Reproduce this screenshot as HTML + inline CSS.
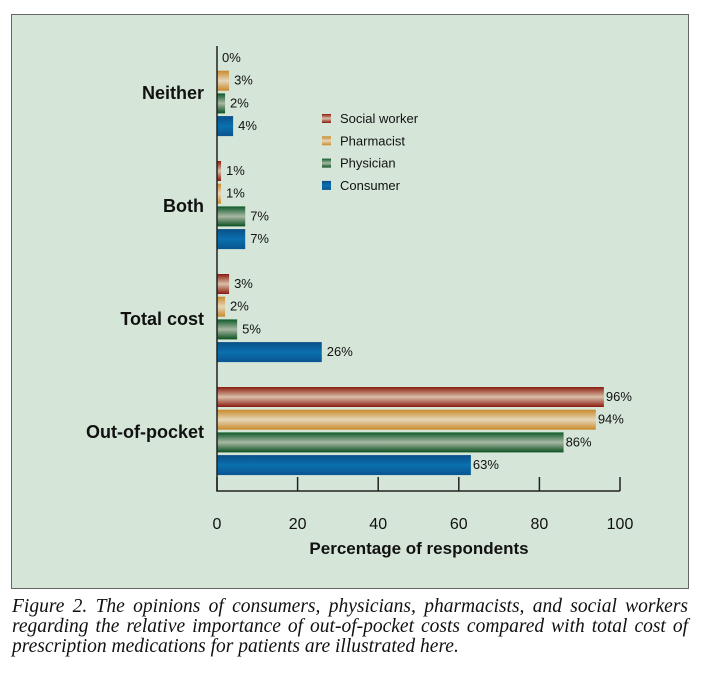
<!DOCTYPE html>
<html><head><meta charset="utf-8">
<style>
body{margin:0;background:#fff;width:703px;height:677px;overflow:hidden;font-family:"Liberation Sans",sans-serif}
#frame{position:absolute;left:11px;top:14px;width:676px;height:573px;background:#d5e6d8;border:1px solid #666}
#cap{position:absolute;left:12px;top:597px;width:676px;font-family:"Liberation Serif",serif;font-style:italic;font-size:19.5px;line-height:20px;color:#111}
#cap .j{text-align:justify;text-align-last:justify;white-space:nowrap}
</style></head><body>
<div id="frame"></div>
<svg id="chart" width="703" height="677" style="position:absolute;left:0;top:0">
<defs>
<linearGradient id="g0" x1="0" y1="0" x2="0" y2="1"><stop offset="0" stop-color="#8a1a0e"/><stop offset="0.5" stop-color="#d9c0a8"/><stop offset="1" stop-color="#8a1a0e"/></linearGradient>
<linearGradient id="g1" x1="0" y1="0" x2="0" y2="1"><stop offset="0" stop-color="#c98a2a"/><stop offset="0.5" stop-color="#e6d6b8"/><stop offset="1" stop-color="#c98a2a"/></linearGradient>
<linearGradient id="g2" x1="0" y1="0" x2="0" y2="1"><stop offset="0" stop-color="#0f5a28"/><stop offset="0.5" stop-color="#a8b8a4"/><stop offset="1" stop-color="#0b4f20"/></linearGradient>
<linearGradient id="g3" x1="0" y1="0" x2="0" y2="1"><stop offset="0" stop-color="#0a4f88"/><stop offset="0.5" stop-color="#0a70ae"/><stop offset="1" stop-color="#0a5590"/></linearGradient>
</defs>
</svg>
<div id="cap"><div class="j">Figure 2. The opinions of consumers, physicians, pharmacists, and social workers</div><div class="j">regarding the relative importance of out-of-pocket costs compared with total cost of</div><div>prescription medications for patients are illustrated here.</div></div>
<script>
const categories=["Neither","Both","Total cost","Out-of-pocket"];
const seriesNames=["Social worker","Pharmacist","Physician","Consumer"];
const socialWorker=[0,1,3,96];
const pharmacist=[3,1,2,94];
const physician=[2,7,5,86];
const consumer=[4,7,26,63];
const xTicks=[0,20,40,60,80,100];
const series=[socialWorker,pharmacist,physician,consumer];
const NS="http://www.w3.org/2000/svg";
const svg=document.getElementById('chart');
const x0=217,x1=620;
const xs=v=>x0+(x1-x0)*v/100;
const groupY=i=>48+i*113;
const barY=(i,s)=>groupY(i)+s*22.7;
function mk(t,a,txt){const e=document.createElementNS(NS,t);for(const k in a)e.setAttribute(k,a[k]);if(txt!==undefined)e.textContent=txt;svg.appendChild(e);return e;}
categories.forEach((c,i)=>{
  series.forEach((arr,s)=>{
    const v=arr[i],y=barY(i,s);
    const r=mk('rect',{x:x0,y:y,width:Math.max(xs(v)-x0,0),height:20,fill:`url(#g${s})`});
    
    
    const t=mk('text',{x:xs(v)+(v>50?2:5),y:y+14,'font-size':13,fill:'#111'},v+'%');
    
    
  });
  const l=mk('text',{x:204,y:groupY(i)+51,'font-size':18,'font-weight':'bold','text-anchor':'end',fill:'#111'},c);
  
  
});
const ax=mk('path',{d:`M${x0} 46V491H${x1}`,stroke:'#222','stroke-width':1.5,fill:'none'});


xTicks.forEach(v=>{
  const tk=mk('line',{x1:xs(v),x2:xs(v),y1:491,y2:477,stroke:'#222','stroke-width':1.5});
  
  
  const tl=mk('text',{x:xs(v),y:529,'font-size':16,'text-anchor':'middle',fill:'#111'},v);
  
  
});
const xt=mk('text',{x:419,y:554,'font-size':17,'font-weight':'bold','text-anchor':'middle',fill:'#111'},'Percentage of respondents');


seriesNames.forEach((n,s)=>{
  const y=114+s*22.3;
  const sw=mk('rect',{x:322,y:y,width:9,height:9,fill:`url(#g${s})`});
  
  
  const lt=mk('text',{x:340,y:y+9,'font-size':13,fill:'#111'},n);
  
  
});
</script>
</body></html>
